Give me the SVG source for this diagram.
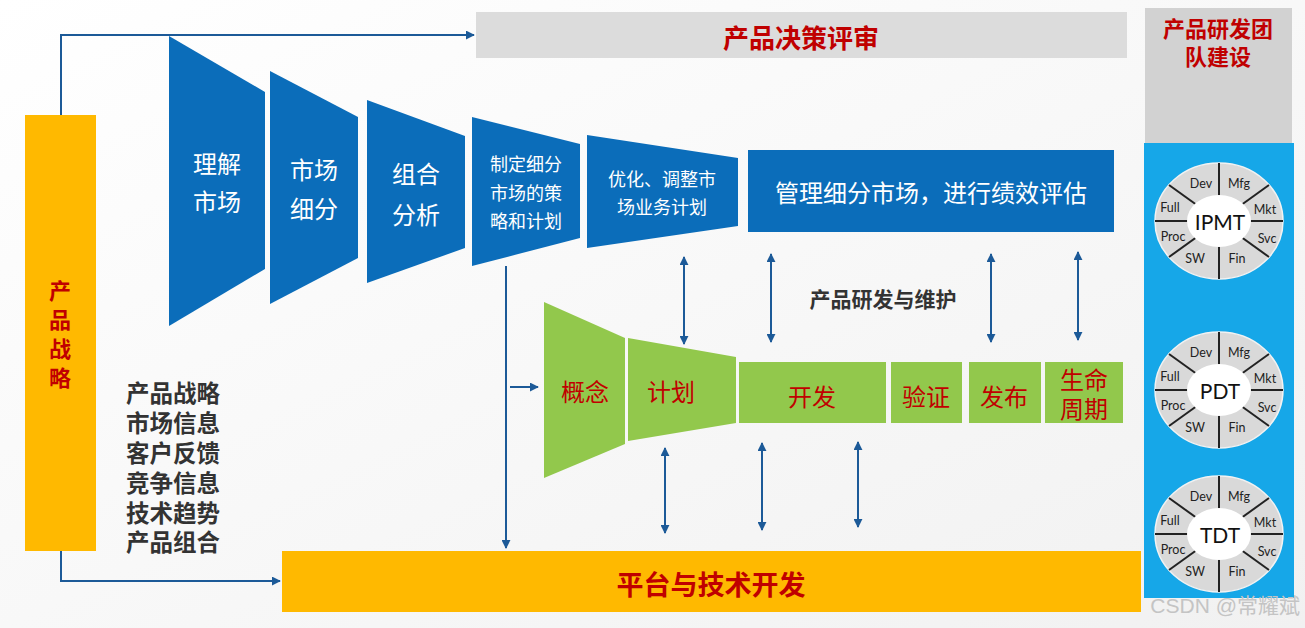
<svg xmlns="http://www.w3.org/2000/svg" xmlns:xlink="http://www.w3.org/1999/xlink" width="1305" height="628" viewBox="0 0 1305 628">
<defs>
<style>
.cjk{font-family:"Noto Sans CJK SC","Noto Sans",sans-serif;}
.wt{fill:#ffffff;font-size:24px;}
.wt18{fill:#ffffff;font-size:18px;}
.rd{fill:#c00000;font-size:24px;}
.rb{fill:#c00000;font-weight:bold;}
.dk{fill:#333333;font-weight:bold;}
.blue{fill:#0b6dba;}
.green{fill:#92c84c;}
.yellow{fill:#ffb900;}
.gray{fill:#dcdcdc;}
.conn{stroke:#1c5a98;stroke-width:2;fill:none;}
.lab{font-family:Lato,"Open Sans",sans-serif;font-size:12.5px;fill:#222;}
.ctr{font-family:Lato,"Open Sans",sans-serif;font-size:21px;fill:#111;}
</style>
<linearGradient id="bg" x1="0" y1="0" x2="1" y2="1">
<stop offset="0" stop-color="#ffffff"/>
<stop offset="1" stop-color="#f1f1f1"/>
</linearGradient>
<marker id="ah" viewBox="0 0 10 10" refX="9" refY="5" markerWidth="4.5" markerHeight="4.5" orient="auto-start-reverse">
<path d="M0,0 L10,5 L0,10 z" fill="#1c5a98"/>
</marker>
<g id="wheel">
<ellipse cx="0" cy="0" rx="64" ry="58" fill="#d9d9d9" stroke="#f2f2f2" stroke-width="1.5"/>
<line x1="0" y1="-58" x2="0" y2="58" stroke="#222" stroke-width="2"/>
<line x1="-64" y1="0" x2="64" y2="0" stroke="#222" stroke-width="2"/>
<line x1="-50" y1="-36" x2="50" y2="36" stroke="#222" stroke-width="2"/>
<line x1="-50" y1="36" x2="50" y2="-36" stroke="#222" stroke-width="2"/>
<ellipse cx="0" cy="0" rx="32" ry="26" fill="#ffffff"/>
<text class="lab" x="-18" y="-38" text-anchor="middle" dominant-baseline="central">Dev</text>
<text class="lab" x="20" y="-38" text-anchor="middle" dominant-baseline="central">Mfg</text>
<text class="lab" x="46" y="-12" text-anchor="middle" dominant-baseline="central">Mkt</text>
<text class="lab" x="48" y="17" text-anchor="middle" dominant-baseline="central">Svc</text>
<text class="lab" x="18" y="37" text-anchor="middle" dominant-baseline="central">Fin</text>
<text class="lab" x="-24" y="37" text-anchor="middle" dominant-baseline="central">SW</text>
<text class="lab" x="-46" y="15" text-anchor="middle" dominant-baseline="central">Proc</text>
<text class="lab" x="-49" y="-14" text-anchor="middle" dominant-baseline="central">Full</text>
</g>
</defs>

<rect x="0" y="0" width="1305" height="628" fill="url(#bg)"/>

<g id="decision-review">
<rect class="gray" x="476" y="12" width="651" height="46"/>
<text class="cjk rb" x="801" y="36" font-size="26" text-anchor="middle" dominant-baseline="central">产品决策评审</text>
</g>

<g id="team-building">
<rect x="1145" y="8" width="147" height="135" fill="#d2d2d2"/>
<text class="cjk rb" font-size="22" text-anchor="middle" dominant-baseline="central"><tspan x="1218" y="27">产品研发团</tspan><tspan x="1218" y="55">队建设</tspan></text>
</g>

<g id="team-panel">
<rect x="1144" y="143" width="150" height="455" fill="#16a7e8"/>
</g>

<g id="ipmt">
<use xlink:href="#wheel" href="#wheel" x="1219" y="221"/>
<text class="ctr" x="1220" y="221" text-anchor="middle" dominant-baseline="central">IPMT</text>
</g>
<g id="pdt">
<use xlink:href="#wheel" href="#wheel" x="1219" y="390"/>
<text class="ctr" x="1220" y="390" text-anchor="middle" dominant-baseline="central">PDT</text>
</g>
<g id="tdt">
<use xlink:href="#wheel" href="#wheel" x="1219" y="534"/>
<text class="ctr" x="1220" y="534" text-anchor="middle" dominant-baseline="central">TDT</text>
</g>

<g id="product-strategy">
<rect class="yellow" x="25" y="115" width="71" height="436"/>
<text class="cjk rb" font-size="22" text-anchor="middle" dominant-baseline="central"><tspan x="60" y="289">产</tspan><tspan x="60" y="318">品</tspan><tspan x="60" y="347">战</tspan><tspan x="60" y="376">略</tspan></text>
</g>

<g id="inputs">
<text class="cjk dk" font-size="23.5"><tspan x="126" y="402">产品战略</tspan><tspan x="126" y="432">市场信息</tspan><tspan x="126" y="462">客户反馈</tspan><tspan x="126" y="492">竞争信息</tspan><tspan x="126" y="522">技术趋势</tspan><tspan x="126" y="551">产品组合</tspan></text>
</g>

<g id="understand-market">
<polygon class="blue" points="169,36 265,92 265,269 169,326"/>
<text class="cjk wt" x="217" y="162" text-anchor="middle" dominant-baseline="central">理解</text>
<text class="cjk wt" x="217" y="200" text-anchor="middle" dominant-baseline="central">市场</text>
</g>
<g id="segment-market">
<polygon class="blue" points="270,71 358,117 358,258 270,304"/>
<text class="cjk wt" x="314" y="168" text-anchor="middle" dominant-baseline="central">市场</text>
<text class="cjk wt" x="314" y="207" text-anchor="middle" dominant-baseline="central">细分</text>
</g>
<g id="portfolio-analysis">
<polygon class="blue" points="367,100 465,136 465,248 367,283"/>
<text class="cjk wt" x="416" y="172" text-anchor="middle" dominant-baseline="central">组合</text>
<text class="cjk wt" x="416" y="213" text-anchor="middle" dominant-baseline="central">分析</text>
</g>
<g id="segment-strategy">
<polygon class="blue" points="472,117 580,144 580,238 472,266"/>
<text class="cjk wt18" x="526" y="163" text-anchor="middle" dominant-baseline="central">制定细分</text>
<text class="cjk wt18" x="526" y="192" text-anchor="middle" dominant-baseline="central">市场的策</text>
<text class="cjk wt18" x="526" y="220" text-anchor="middle" dominant-baseline="central">略和计划</text>
</g>
<g id="business-plan">
<polygon class="blue" points="587,135 738,158 738,226 587,248"/>
<text class="cjk wt18" x="662" y="178" text-anchor="middle" dominant-baseline="central">优化、调整市</text>
<text class="cjk wt18" x="662" y="206" text-anchor="middle" dominant-baseline="central">场业务计划</text>
</g>
<g id="manage-segments">
<rect class="blue" x="748" y="150" width="366" height="82"/>
<text class="cjk wt" x="931" y="191" text-anchor="middle" dominant-baseline="central">管理细分市场，进行绩效评估</text>
</g>

<g id="rd-label">
<text class="cjk dk" x="883" y="298" font-size="21" fill="#222" text-anchor="middle" dominant-baseline="central">产品研发与维护</text>
</g>

<g id="concept">
<polygon class="green" points="544,302 625,338 625,444 544,478"/>
<text class="cjk rd" x="585" y="390" text-anchor="middle" dominant-baseline="central">概念</text>
</g>
<g id="plan">
<polygon class="green" points="628,338 736,357 736,423 628,441"/>
<text class="cjk rd" x="671" y="390" text-anchor="middle" dominant-baseline="central">计划</text>
</g>
<g id="develop">
<rect class="green" x="739" y="362" width="147" height="61"/>
<text class="cjk rd" x="812" y="395" text-anchor="middle" dominant-baseline="central">开发</text>
</g>
<g id="verify">
<rect class="green" x="891" y="362" width="71" height="61"/>
<text class="cjk rd" x="926" y="395" text-anchor="middle" dominant-baseline="central">验证</text>
</g>
<g id="release">
<rect class="green" x="969" y="362" width="72" height="61"/>
<text class="cjk rd" x="1004" y="395" text-anchor="middle" dominant-baseline="central">发布</text>
</g>
<g id="lifecycle">
<rect class="green" x="1045" y="362" width="78" height="61"/>
<text class="cjk rd" font-size="23" text-anchor="middle" dominant-baseline="central"><tspan x="1084" y="378">生命</tspan><tspan x="1084" y="407">周期</tspan></text>
</g>

<g id="platform-tech">
<rect class="yellow" x="282" y="551" width="859" height="61"/>
<text class="cjk rb" x="711" y="583" font-size="27" text-anchor="middle" dominant-baseline="central">平台与技术开发</text>
</g>

<g id="connectors">
<polyline class="conn" points="61,115 61,35 474,35" marker-end="url(#ah)"/>
<polyline class="conn" points="61,551 61,581 280,581" marker-end="url(#ah)"/>
<line class="conn" x1="506" y1="266" x2="506" y2="548" marker-end="url(#ah)"/>
<line class="conn" x1="510" y1="387" x2="538" y2="387" marker-end="url(#ah)"/>
<line class="conn" x1="684" y1="257" x2="684" y2="344" marker-start="url(#ah)" marker-end="url(#ah)"/>
<line class="conn" x1="771" y1="254" x2="771" y2="342" marker-start="url(#ah)" marker-end="url(#ah)"/>
<line class="conn" x1="991" y1="254" x2="991" y2="342" marker-start="url(#ah)" marker-end="url(#ah)"/>
<line class="conn" x1="1078" y1="252" x2="1078" y2="340" marker-start="url(#ah)" marker-end="url(#ah)"/>
<line class="conn" x1="665" y1="448" x2="665" y2="533" marker-start="url(#ah)" marker-end="url(#ah)"/>
<line class="conn" x1="762" y1="443" x2="762" y2="530" marker-start="url(#ah)" marker-end="url(#ah)"/>
<line class="conn" x1="858" y1="442" x2="858" y2="527" marker-start="url(#ah)" marker-end="url(#ah)"/>
</g>

<text x="1300" y="613" text-anchor="end" font-family="'Liberation Sans','Noto Sans CJK SC',sans-serif" font-size="21" fill="#c4c4c4">CSDN @常耀斌</text>
</svg>
